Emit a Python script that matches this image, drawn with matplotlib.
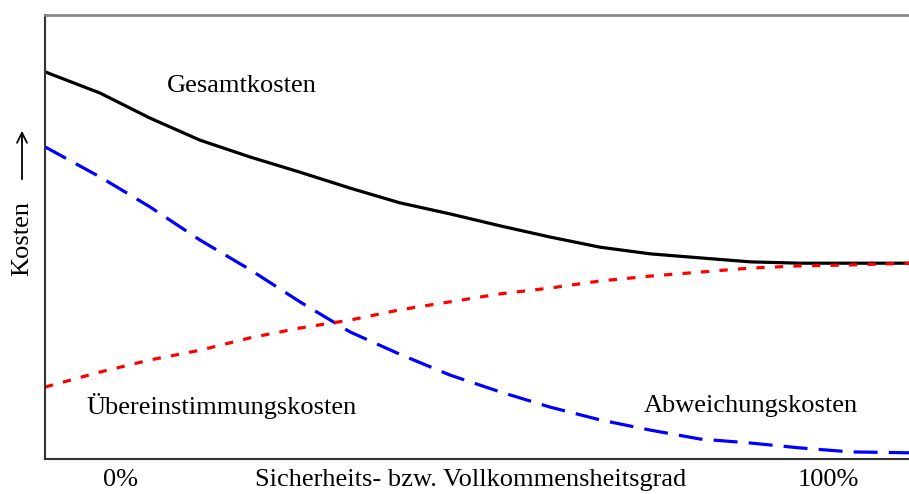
import numpy as np
import matplotlib
matplotlib.use('Agg')
import matplotlib.pyplot as plt

plt.rcParams.update({
    'font.family': ['Liberation Serif', 'DejaVu Serif'],
    'font.size': 19,
})

# --- Data (x: Sicherheitsgrad in %, y: Kosten in arbitrary units 0..100) ---
grad = [-10.6, -2.8, 4.2, 11.3, 18.4, 25.4, 32.5, 39.5, 46.6, 53.7, 60.7,
        67.8, 74.9, 81.9, 89.0, 96.0, 103.1, 111.4]
gesamtkosten = [87.2, 82.4, 76.8, 71.8, 68.0, 64.6, 61.0, 57.7, 55.2, 52.5,
                50.0, 47.7, 46.2, 45.3, 44.4, 44.1, 44.1, 44.1]
abweichungskosten = [70.3, 63.5, 56.8, 49.3, 42.6, 35.4, 28.6, 23.6, 18.9, 15.1,
                     11.7, 8.8, 6.5, 4.5, 3.6, 2.5, 1.6, 1.4]
uebereinstimmungskosten = [16.2, 19.6, 22.3, 24.5, 27.3, 29.5, 31.3, 33.6, 35.4,
                           37.2, 38.5, 40.1, 41.2, 42.1, 43.0, 43.5, 43.7, 44.1]

tick_pos = [0, 100]
tick_labels = ['0%', '100%']

fig = plt.figure(figsize=(9.09, 4.94), dpi=100)
ax = fig.add_axes([45 / 909, 1 - 459 / 494, 864 / 909, 444 / 494])

ax.plot(grad, gesamtkosten, color='black', linewidth=2.3, solid_capstyle='butt')
ax.plot(grad, abweichungskosten, color='#0000ff', linewidth=2.3,
        dashes=(7.5, 3.5))
ax.plot(grad, uebereinstimmungskosten, color='#ff0000', linewidth=2.3,
        dashes=(2.6, 3.2))

ax.set_xlim(-10.6, 111.4)
ax.set_ylim(0, 100)
ax.set_xticks(tick_pos)
ax.set_xticklabels(tick_labels)
ax.tick_params(axis='x', length=0, pad=7, labelsize=19)
ax.set_yticks([])

for side in ['left', 'bottom']:
    ax.spines[side].set_color('#333333')
    ax.spines[side].set_linewidth(1.5)
ax.spines['top'].set_color('#888888')
ax.spines['top'].set_linewidth(2)
ax.spines['right'].set_visible(False)

ax.text(17.2, 84.0, 'Gesamtkosten', ha='center', va='center')
ax.text(14.4, 12.0, 'Übereinstimmungskosten', ha='center', va='center')
ax.text(89.0, 12.0, 'Abweichungskosten', ha='center', va='center')

fig.text(471 / 909, 1 - 480 / 494, 'Sicherheits- bzw. Vollkommensheitsgrad',
         ha='center', va='center', fontsize=19)
fig.text(22 / 909, 1 - 238 / 494, 'Kosten', rotation=90,
         ha='center', va='center', fontsize=19)
fig.add_artist(matplotlib.patches.FancyArrowPatch(
    (22 / 909, 1 - 182 / 494), (22 / 909, 1 - 128 / 494),
    transform=fig.transFigure, arrowstyle='->', mutation_scale=18,
    color='black', linewidth=1.3))

fig.savefig('out.png', dpi=100)
